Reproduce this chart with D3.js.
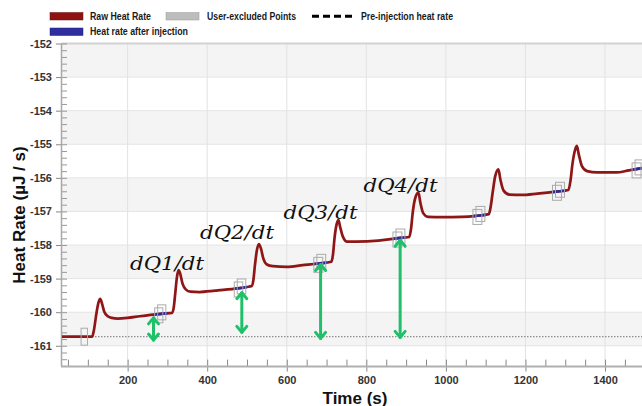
<!DOCTYPE html>
<html><head><meta charset="utf-8">
<script src="https://cdn.jsdelivr.net/npm/d3@7"></script>
<style>
html,body{margin:0;padding:0;background:#fff;}
svg{display:block;}
</style></head>
<body>
<svg id="chart" width="642" height="406"></svg>
<script>
// ---------- DATA ----------
const rawTimes = [35,60,111,115,122,127,131,135,141,150,160,175,200,230,264,290,312,
  316,320,324,328,332,338,346,358,380,420,470,500,512,
  516,520,525,530,535,541,550,565,600,640,680,712,
  716,720,725,730,734,741,752,775,830,875,908,
  912,917,923,931,936,943,955,990,1040,1076,1108,
  1112,1118,1124,1132,1137,1145,1160,1190,1230,1277,1308,
  1313,1318,1324,1329,1334,1342,1355,1380,1428,1460,1500];
const rawValues = [-160.73,-160.73,-160.73,-160.55,-160.0,-159.7,-159.6,-159.72,-159.98,-160.12,-160.17,-160.19,-160.17,-160.12,-160.07,-160.04,-160.02,
  -159.85,-159.4,-158.95,-158.75,-158.85,-159.15,-159.32,-159.39,-159.4,-159.36,-159.3,-159.25,-159.22,
  -159.05,-158.6,-158.15,-157.97,-158.1,-158.4,-158.58,-158.63,-158.65,-158.6,-158.55,-158.5,
  -158.3,-157.8,-157.4,-157.26,-157.45,-157.75,-157.9,-157.9,-157.87,-157.8,-157.76,
  -157.55,-157.0,-156.6,-156.44,-156.75,-157.05,-157.16,-157.17,-157.16,-157.13,-157.08,
  -156.9,-156.4,-155.95,-155.75,-156.05,-156.38,-156.5,-156.51,-156.47,-156.41,-156.36,
  -156.1,-155.6,-155.2,-155.05,-155.3,-155.65,-155.8,-155.84,-155.84,-155.78,-155.7];
const afterStart = [267,469,668,867,1068,1268,1469];
const afterEnd   = [300,500,701,900,1101,1302,1500];
const excludedStart = [83,268,468,668,867,1068,1268,1468];
const excludedEnd   = [99,296,497,698,897,1098,1298,1498];
const preInjection = -160.73;
const arrowTimes  = [265,487,685,885];
const arrowTop    = [-160.14,-159.39,-158.55,-157.83];
const arrowBottom = [-160.86,-160.63,-160.81,-160.78];
const dqLabels = ["dQ1/dt","dQ2/dt","dQ3/dt","dQ4/dt"];
const xTickValues = [200,400,600,800,1000,1200,1400];
const yTickValues = [-152,-153,-154,-155,-156,-157,-158,-159,-160,-161];
const legendLabels = ["Raw Heat Rate","User-excluded Points","Pre-injection heat rate","Heat rate after injection"];

// ---------- LAYOUT ----------
const svg = d3.select("#chart");
const pL = 62, pR = 644.8, pT = 43.5, pB = 366.6;
const x = d3.scaleLinear().domain([35,1500]).range([pL,pR]);
const y = d3.scaleLinear().domain([-161.62,-152]).range([pB,pT]);
const pts = rawTimes.map((t,i)=>[t,rawValues[i]]);
const valueAt = t => {
  const i = d3.bisector(d=>d[0]).left(pts,t);
  if (i<=0) return pts[0][1];
  if (i>=pts.length) return pts[pts.length-1][1];
  const a=pts[i-1], b=pts[i];
  return a[1]+(b[1]-a[1])*(t-a[0])/(b[0]-a[0]);
};
const plainFmt = d => String(d);

const defs = svg.append("defs");
defs.append("clipPath").attr("id","plotClip").append("rect")
  .attr("x",pL).attr("y",pT).attr("width",pR-pL).attr("height",pB-pT);
const blueClip = defs.append("clipPath").attr("id","blueClip");
afterStart.forEach((s,i)=>{
  blueClip.append("rect").attr("x",x(s)).attr("y",pT).attr("width",x(afterEnd[i])-x(s)).attr("height",pB-pT);
});

// bands
const bands = [[-152,-153],[-154,-155],[-156,-157],[-158,-159],[-160,-161]];
svg.append("g").selectAll("rect").data(bands).join("rect")
  .attr("x",pL).attr("width",pR-pL)
  .attr("y",d=>y(d[0])).attr("height",d=>y(d[1])-y(d[0]))
  .attr("fill","#f4f4f4");

// gridlines
svg.append("g").selectAll("line").data(yTickValues).join("line")
  .attr("x1",pL).attr("x2",pR).attr("y1",d=>y(d)).attr("y2",d=>y(d))
  .attr("stroke","#e4e4e4").attr("stroke-width",1);
svg.append("g").selectAll("line").data(xTickValues).join("line")
  .attr("x1",d=>x(d)).attr("x2",d=>x(d)).attr("y1",pT).attr("y2",pB)
  .attr("stroke","#e2e2e2").attr("stroke-width",1);

// top border
svg.append("line").attr("x1",pL).attr("x2",642).attr("y1",pT).attr("y2",pT)
  .attr("stroke","#d2d2d2").attr("stroke-width",2);

// axes
const xAxisMinor = d3.axisBottom(x).tickValues(d3.range(50,1500,50)).tickSize(-7).tickFormat("");
svg.append("g").attr("transform",`translate(0,${pB})`).call(xAxisMinor)
  .call(g=>{g.select(".domain").remove(); g.selectAll("line").attr("stroke","#888");});
const xAxis = d3.axisBottom(x).tickValues(xTickValues).tickSize(5).tickPadding(5).tickFormat(plainFmt);
svg.append("g").attr("transform",`translate(0,${pB})`).call(xAxis)
  .call(g=>{g.select(".domain").remove(); g.selectAll("line").attr("stroke","#888");
    g.selectAll("text").attr("font-family","Liberation Sans, Arial, sans-serif")
     .attr("font-size",11).attr("font-weight","bold").attr("fill","#333");});
const yAxisMinor = d3.axisLeft(y).tickValues(d3.range(-161.6,-151.99,0.2)).tickSize(-5).tickFormat("");
svg.append("g").attr("transform",`translate(${pL},0)`).call(yAxisMinor)
  .call(g=>{g.select(".domain").remove(); g.selectAll("line").attr("stroke","#999");});
const yAxis = d3.axisLeft(y).tickValues(yTickValues).tickSize(6).tickPadding(4).tickFormat(plainFmt);
svg.append("g").attr("transform",`translate(${pL},0)`).call(yAxis)
  .call(g=>{g.select(".domain").remove(); g.selectAll("line").attr("stroke","#888");
    g.selectAll("text").attr("font-family","Liberation Sans, Arial, sans-serif")
     .attr("font-size",11).attr("font-weight","bold").attr("fill","#333");});
svg.append("line").attr("x1",pL-0.5).attr("x2",pL-0.5).attr("y1",pT).attr("y2",pB)
  .attr("stroke","#a8a8a8").attr("stroke-width",1.5);
svg.append("line").attr("x1",pL-1).attr("x2",642).attr("y1",pB).attr("y2",pB)
  .attr("stroke","#b0b0b0").attr("stroke-width",2);

// pre-injection dotted line
svg.append("line").attr("x1",pL).attr("x2",642).attr("y1",y(preInjection)).attr("y2",y(preInjection))
  .attr("stroke","#555").attr("stroke-width",0.8).attr("stroke-dasharray","1.5,1.5");

// curves
const line = d3.line().x(d=>x(d[0])).y(d=>y(d[1])).curve(d3.curveMonotoneX);
const plot = svg.append("g").attr("clip-path","url(#plotClip)");
plot.append("path").attr("d",line(pts)).attr("fill","none")
  .attr("stroke","#8e1616").attr("stroke-width",2.7).attr("stroke-linejoin","round");
plot.append("g").attr("clip-path","url(#blueClip)").append("path").attr("d",line(pts)).attr("fill","none")
  .attr("stroke","#2a2a9a").attr("stroke-width",2.7);

// excluded boxes
excludedStart.forEach((s,i)=>{
  const x0 = x(s), x1 = x(excludedEnd[i]);
  const yc = y(valueAt((s+excludedEnd[i])/2));
  const g = plot.append("g").attr("fill","none").attr("stroke","#aaa").attr("stroke-width",1);
  if (i===0) {
    g.append("rect").attr("x",x0).attr("y",yc-8.5).attr("width",x1-x0).attr("height",17);
  } else {
    g.append("rect").attr("x",x0).attr("y",yc-6).attr("width",x1-x0-3).attr("height",15);
    g.append("rect").attr("x",x0+3).attr("y",yc-9).attr("width",x1-x0-3).attr("height",15);
  }
});

// arrows
const green = "#1fc06a";
arrowTimes.forEach((t,i)=>{
  const ax = x(t), y1 = y(arrowTop[i]), y2 = y(arrowBottom[i]);
  const g = svg.append("g").attr("stroke",green).attr("stroke-width",3).attr("fill","none")
    .attr("stroke-linecap","round").attr("stroke-linejoin","round");
  g.append("line").attr("x1",ax).attr("x2",ax).attr("y1",y1+1).attr("y2",y2-1);
  g.append("path").attr("d",`M${ax-5},${y1+7}L${ax},${y1+1}L${ax+5},${y1+7}`);
  g.append("path").attr("d",`M${ax-5},${y2-7}L${ax},${y2-1}L${ax+5},${y2-7}`);
});

// dQ labels
const dqPos = [[130,270],[200,238.5],[283.5,219],[363.5,192]];
dqLabels.forEach((s,i)=>{
  svg.append("text").attr("x",dqPos[i][0]).attr("y",dqPos[i][1])
    .attr("font-family","DejaVu Serif, serif").attr("font-style","italic").attr("font-size",19)
    .attr("fill","#111").attr("textLength",74).attr("lengthAdjust","spacingAndGlyphs").text(s);
});

// axis titles
svg.append("text").attr("x",355).attr("y",403.5).attr("text-anchor","middle")
  .attr("font-family","Liberation Sans, Arial, sans-serif").attr("font-weight","bold")
  .attr("font-size",17).attr("fill","#111").text("Time (s)");
svg.append("text").attr("transform","translate(25,215) rotate(-90)").attr("text-anchor","middle")
  .attr("font-family","Liberation Sans, Arial, sans-serif").attr("font-weight","bold")
  .attr("font-size",17).attr("fill","#111").text("Heat Rate (µJ / s)");

// legend
const lg = svg.append("g").attr("font-family","Liberation Sans, Arial, sans-serif")
  .attr("font-size",10.5).attr("font-weight","bold").attr("fill","#1a1a1a");
lg.append("rect").attr("x",50).attr("y",12.5).attr("width",33).attr("height",7.5).attr("fill","#8e1212").attr("stroke","#6a0c0c").attr("stroke-width",0.5);
lg.append("text").attr("x",90).attr("y",19.8).attr("textLength",61).attr("lengthAdjust","spacingAndGlyphs").text(legendLabels[0]);
lg.append("rect").attr("x",166).attr("y",12.5).attr("width",33).attr("height",7.5).attr("fill","#bdbdbd").attr("stroke","#999").attr("stroke-width",0.5);
lg.append("text").attr("x",207).attr("y",19.8).attr("textLength",89).attr("lengthAdjust","spacingAndGlyphs").text(legendLabels[1]);
lg.append("line").attr("x1",312).attr("x2",353).attr("y1",16.3).attr("y2",16.3)
  .attr("stroke","#000").attr("stroke-width",3).attr("stroke-dasharray","7,4");
lg.append("text").attr("x",361).attr("y",19.8).attr("textLength",92).attr("lengthAdjust","spacingAndGlyphs").text(legendLabels[2]);
lg.append("rect").attr("x",50).attr("y",28).attr("width",33).attr("height",7.5).attr("fill","#2e2ea0").attr("stroke","#20207a").attr("stroke-width",0.5);
lg.append("text").attr("x",90).attr("y",35.3).attr("textLength",98).attr("lengthAdjust","spacingAndGlyphs").text(legendLabels[3]);
</script>
</body></html>
